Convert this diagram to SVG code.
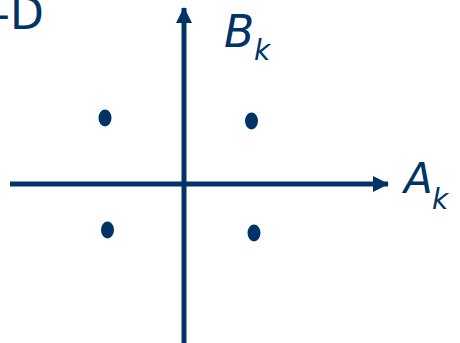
<svg xmlns="http://www.w3.org/2000/svg" width="460" height="343" viewBox="0 0 460 343">
<style>
.ax{stroke:#003466;stroke-width:5;fill:none}
.dot{fill:#003466}
.lbl{fill:#003466;font-family:"DejaVu Sans",sans-serif;font-style:oblique}
.ttl{fill:#003466;font-family:"DejaVu Sans",sans-serif}
</style>
<defs>
<marker id="ah" viewBox="0 0 16 16" refX="15" refY="8" markerWidth="16" markerHeight="16" markerUnits="userSpaceOnUse" orient="auto">
<path d="M0,0 L16,8 L0,16 Z" fill="#003466"/>
</marker>
</defs>
<text class="ttl" x="-6" y="29" font-size="44">-D</text>
<g id="connectors">
<line class="ax" x1="10" y1="184" x2="388" y2="184" marker-end="url(#ah)"/>
<line class="ax" x1="184" y1="343" x2="184" y2="8" marker-end="url(#ah)"/>
</g>
<g id="label-B"><text class="lbl" x="224" y="47" font-size="44">B</text><text class="lbl" x="254" y="60" font-size="28">k</text></g>
<g id="label-A"><text class="lbl" x="404" y="193" font-size="42">A</text><text class="lbl" x="432" y="209" font-size="28">k</text></g>
<g id="p1"><ellipse class="dot" cx="105" cy="118" rx="6.5" ry="8.5"/></g>
<g id="p2"><ellipse class="dot" cx="251.5" cy="121" rx="6.5" ry="8.5"/></g>
<g id="p3"><ellipse class="dot" cx="107.5" cy="230" rx="6.5" ry="8.5"/></g>
<g id="p4"><ellipse class="dot" cx="254" cy="233" rx="6.5" ry="8.5"/></g>
</svg>
